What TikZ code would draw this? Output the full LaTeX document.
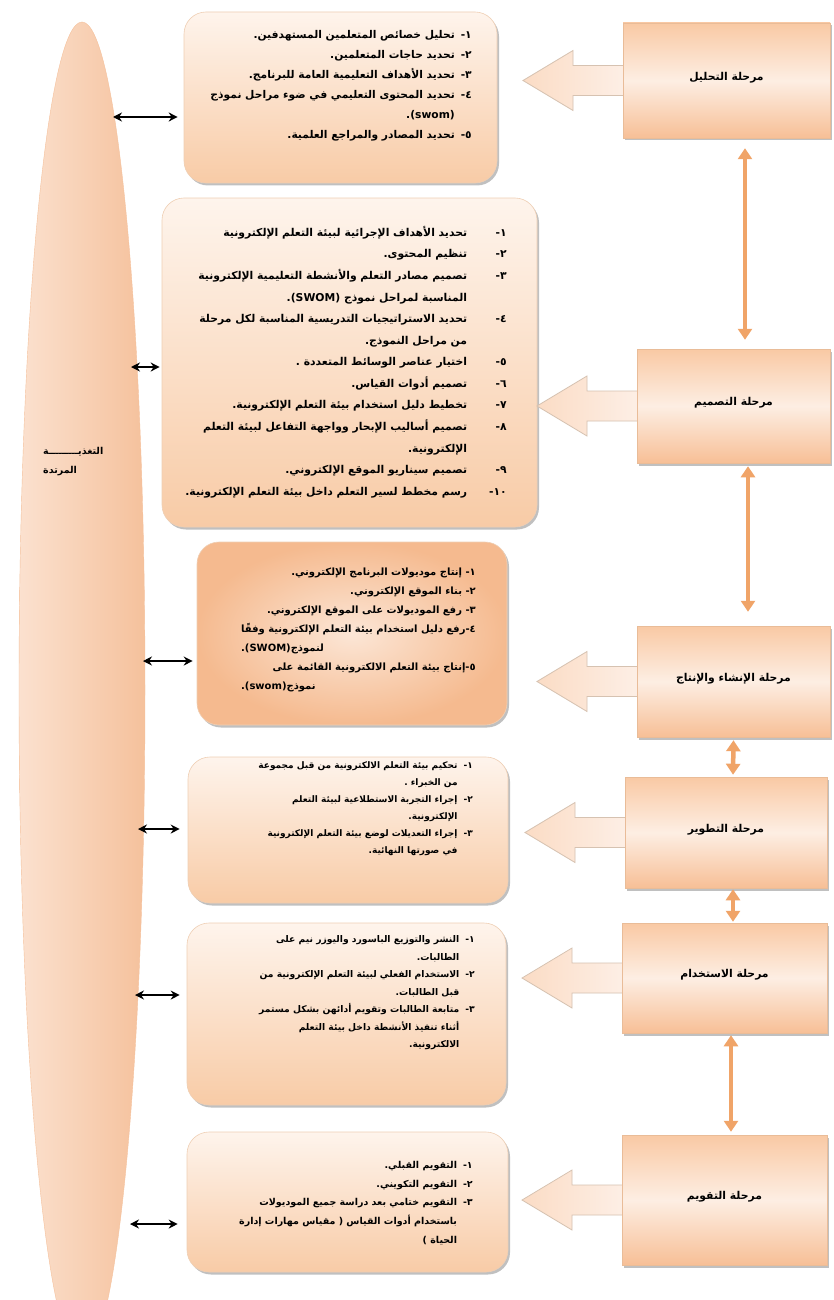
\documentclass[tikz,border=0pt]{standalone}
\usepackage{fontspec}
\usetikzlibrary{shapes.geometric,shadows,arrows.meta,calc}
\TeXXeTstate=1
\newfontfamily\ar[Script=Arabic]{DejaVu Sans}
\newcommand{\RL}[1]{\beginR #1\endR}
\newcommand{\LR}[1]{\beginL #1\endL}
\newcommand{\itm}[2]{\RL{#2} & \LR{#1}\\}
\newcommand{\cont}[1]{\RL{#1} & \\}
\newcommand{\plab}[1]{\raisebox{9pt}{\RL{#1}}}
\definecolor{boxtop}{HTML}{FEF4EC}
\definecolor{boxbot}{HTML}{F8CBA6}
\definecolor{boxedge}{HTML}{EFCFB4}
\definecolor{prodout}{HTML}{F5BA8F}
\definecolor{prodin}{HTML}{FCE6D6}
\definecolor{rtop}{HTML}{F9C9A4}
\definecolor{rmid}{HTML}{FDEEE3}
\definecolor{rbot}{HTML}{F7BF96}
\definecolor{redge}{HTML}{E9BC98}
\definecolor{blkfillA}{HTML}{FBDCC5}
\definecolor{blkfillB}{HTML}{FDEFE6}
\definecolor{blkedge}{HTML}{D6C2B1}
\definecolor{vorange}{HTML}{F0A468}
\definecolor{ellL}{HTML}{FBE1CF}
\definecolor{ellR}{HTML}{F5C19C}
\tikzset{
  box/.style={rounded corners=22pt, draw=boxedge, line width=0.6pt,
    top color=boxtop, bottom color=boxbot, inner sep=0pt,
    drop shadow={shadow xshift=2pt, shadow yshift=-2.5pt, opacity=0.35, fill=black!70}},
  prodbox/.style={rounded corners=22pt, draw=boxedge, line width=0.6pt,
    inner color=prodin, outer color=prodout, inner sep=0pt,
    drop shadow={shadow xshift=2pt, shadow yshift=-2.5pt, opacity=0.35, fill=black!70}},
  phase/.style={rectangle, draw=redge, line width=0.5pt,
    top color=rtop, bottom color=rbot, middle color=rmid, inner sep=0pt,
    font=\ar\bfseries\fontsize{10.8}{13}\selectfont,
    drop shadow={shadow xshift=2pt, shadow yshift=-2.5pt, opacity=0.35, fill=black!70}},
  blk/.style={draw=blkedge, line width=0.8pt, left color=blkfillA, right color=blkfillB},
  varr/.style={draw=vorange, line width=4.5pt,
    {Triangle[width=14pt,length=11pt]}-{Triangle[width=14pt,length=11pt]}},
  karr/.style={draw=black, line width=1.3pt,
    {Stealth[width=9pt,length=9pt]}-{Stealth[width=9pt,length=9pt]}},
  txt/.style={anchor=north east, inner sep=0pt},
}
\begin{document}
\begin{tikzpicture}[x=1pt,y=-1pt]
\useasboundingbox (0,0) rectangle (833,1300);
\fill[white] (0,0) rectangle (833,1300);

% feedback ellipse
\node[ellipse, left color=ellL, right color=ellR, draw=ellR, line width=0.4pt,
      minimum width=126pt, minimum height=1336pt, inner sep=0pt] (ell) at (82,690) {};
\node[anchor=north west, inner sep=0pt, align=left, font=\ar\bfseries\fontsize{9.5}{19}\selectfont]
  (fb) at (43,447) {\RL{التغذيـــــــــة}\\\RL{المرتدة}};

% content boxes
\node[box, minimum width=313pt, minimum height=171pt] (b1) at (340.5,97.5) {};
\node[box, minimum width=375pt, minimum height=329pt] (b2) at (349.5,362.5) {};
\node[prodbox, minimum width=310pt, minimum height=183pt] (b3) at (352,633.5) {};
\node[box, minimum width=320pt, minimum height=146pt] (b4) at (348,830) {};
\node[box, minimum width=319pt, minimum height=182pt] (b5) at (346.5,1014) {};
\node[box, minimum width=321pt, minimum height=140pt] (b6) at (347.5,1202) {};

% box texts
\node[txt, font=\ar\bfseries\fontsize{10.7}{13}\selectfont] (t1) at (472,24) {\renewcommand\arraystretch{1.54}%
\begin{tabular}{@{}r@{\hspace{6pt}}r@{}}
\itm{١-}{تحليل خصائص المتعلمين المستهدفين.}
\itm{٢-}{تحديد حاجات المتعلمين.}
\itm{٣-}{تحديد الأهداف التعليمية العامة للبرنامج.}
\itm{٤-}{تحديد المحتوى التعليمي في ضوء مراحل نموذج}
\cont{\LR{(swom)}.}
\itm{٥-}{تحديد المصادر والمراجع العلمية.}
\end{tabular}};

\node[txt, font=\ar\bfseries\fontsize{10.8}{13}\selectfont] (t2) at (507,221) {\renewcommand\arraystretch{1.66}%
\begin{tabular}{@{}r@{\hspace{22pt}}r@{}}
\itm{١-}{تحديد الأهداف الإجرائية لبيئة التعلم الإلكترونية}
\itm{٢-}{تنظيم المحتوى.}
\itm{٣-}{تصميم مصادر التعلم والأنشطة التعليمية الإلكترونية}
\cont{المناسبة لمراحل نموذج \LR{(SWOM)}.}
\itm{٤-}{تحديد الاستراتيجيات التدريسية المناسبة لكل مرحلة}
\cont{من مراحل النموذج.}
\itm{٥-}{اختيار عناصر الوسائط المتعددة .}
\itm{٦-}{تصميم أدوات القياس.}
\itm{٧-}{تخطيط دليل استخدام بيئة التعلم الإلكترونية.}
\itm{٨-}{تصميم أساليب الإبحار وواجهة التفاعل لبيئة التعلم}
\cont{الإلكترونية.}
\itm{٩-}{تصميم سيناريو الموقع الإلكتروني.}
\itm{١٠-}{رسم مخطط لسير التعلم داخل بيئة التعلم الإلكترونية.}
\end{tabular}};

\node[txt, font=\ar\bfseries\fontsize{10}{12}\selectfont] (t3) at (476,562) {\renewcommand\arraystretch{1.58}%
\begin{tabular}{@{}r@{}}
\RL{\LR{١-} إنتاج موديولات البرنامج الإلكتروني.}\\
\RL{\LR{٢-} بناء الموقع الإلكتروني.}\\
\RL{\LR{٣-} رفع الموديولات على الموقع الإلكتروني.}\\
\RL{\LR{٤-}رفع دليل استخدام بيئة التعلم الإلكترونية وفقًا}\\
\multicolumn{1}{@{}l@{}}{\RL{لنموذج\LR{(SWOM)}.}}\\
\RL{\LR{٥-}إنتاج بيئة التعلم الالكترونية القائمة على\hspace{10pt}}\\
\multicolumn{1}{@{}l@{}}{\RL{نموذج\LR{(swom)}.}}\\
\end{tabular}};

\node[txt, font=\ar\bfseries\fontsize{9}{11}\selectfont] (t4) at (473,756) {\renewcommand\arraystretch{1.55}%
\begin{tabular}{@{}r@{\hspace{6pt}}r@{}}
\itm{١-}{تحكيم بيئة التعلم الالكترونية من قبل مجموعة}
\cont{من الخبراء .}
\itm{٢-}{إجراء التجربة الاستطلاعية لبيئة التعلم}
\cont{الإلكترونية.}
\itm{٣-}{إجراء التعديلات لوضع بيئة التعلم الإلكترونية}
\cont{في صورتها النهائية.}
\end{tabular}};

\node[txt, font=\ar\bfseries\fontsize{9.2}{11}\selectfont] (t5) at (475,930.5) {\renewcommand\arraystretch{1.59}%
\begin{tabular}{@{}r@{\hspace{6pt}}r@{}}
\itm{١-}{النشر والتوزيع الباسورد واليوزر نيم على}
\cont{الطالبات.}
\itm{٢-}{الاستخدام الفعلي لبيئة التعلم الإلكترونية من}
\cont{قبل الطالبات.}
\itm{٣-}{متابعة الطالبات وتقويم أدائهن بشكل مستمر}
\cont{أثناء تنفيذ الأنشطة داخل بيئة التعلم}
\cont{الالكترونية.}
\end{tabular}};

\node[txt, font=\ar\bfseries\fontsize{9.5}{11}\selectfont] (t6) at (473,1155) {\renewcommand\arraystretch{1.7}%
\begin{tabular}{@{}r@{\hspace{6pt}}r@{}}
\itm{١-}{التقويم القبلي.}
\itm{٢-}{التقويم التكويني.}
\itm{٣-}{التقويم ختامي بعد دراسة جميع الموديولات}
\cont{باستخدام أدوات القياس ( مقياس مهارات إدارة}
\cont{الحياة )}
\end{tabular}};

% phase rectangles and their block arrows
\coordinate (r1w) at (623,80.5);
\coordinate (r2w) at (637,406);
\coordinate (r3w) at (637,681.5);
\coordinate (r4w) at (625,832.5);
\coordinate (r5w) at (622,978);
\coordinate (r6w) at (622,1200);
\foreach \c in {r1w,r2w,r3w,r4w,r5w,r6w}{
  \draw[blk] ($(\c)+(3,-15)$) -- ++(-53,0) -- ++(0,-15) -- ++(-50,30)
     -- ++(50,30) -- ++(0,-15) -- ++(53,0) -- cycle;
}
\node[phase, minimum width=207pt, minimum height=115pt] (r1) at (726.5,80.5) {\plab{مرحلة التحليل}};
\node[phase, minimum width=193pt, minimum height=114pt] (r2) at (733.5,406) {\plab{مرحلة التصميم}};
\node[phase, minimum width=193pt, minimum height=111pt] (r3) at (733.5,681.5) {\plab{مرحلة الإنشاء والإنتاج}};
\node[phase, minimum width=202pt, minimum height=111pt] (r4) at (726,832.5) {\plab{مرحلة التطوير}};
\node[phase, minimum width=205pt, minimum height=110pt] (r5) at (724.5,978) {\plab{مرحلة الاستخدام}};
\node[phase, minimum width=205pt, minimum height=130pt] (r6) at (724.5,1200) {\plab{مرحلة التقويم}};

% vertical orange connectors
\draw[varr] ($(r1.south)+(18.5,10)$) -- ($(r2.north)+(11.5,-9)$);
\draw[varr] ($(r2.south)+(14.5,3)$) -- ($(r3.north)+(14.5,-14)$);
\draw[varr] ($(r3.south)+(0,3)$) -- ($(r4.north)+(7,-2)$);
\draw[varr] ($(r4.south)+(7,1)$) -- ($(r5.north)+(8.5,-1)$);
\draw[varr] ($(r5.south)+(6.5,2)$) -- ($(r6.north)+(6.5,-3)$);

% black feedback connectors
\coordinate (k1) at (113,117);
\coordinate (k2) at (131,367);
\coordinate (k3) at (143,661);
\coordinate (k4) at (138,829);
\coordinate (k5) at (135,995);
\coordinate (k6) at (130,1224);
\draw[karr, shorten >=6pt] (k1) -- (k1 -| b1.west);
\draw[karr, shorten >=2pt] (k2) -- (k2 -| b2.west);
\draw[karr, shorten >=4pt] (k3) -- (k3 -| b3.west);
\draw[karr, shorten >=8pt] (k4) -- (k4 -| b4.west);
\draw[karr, shorten >=7pt] (k5) -- (k5 -| b5.west);
\draw[karr, shorten >=9pt] (k6) -- (k6 -| b6.west);
\end{tikzpicture}
\end{document}
